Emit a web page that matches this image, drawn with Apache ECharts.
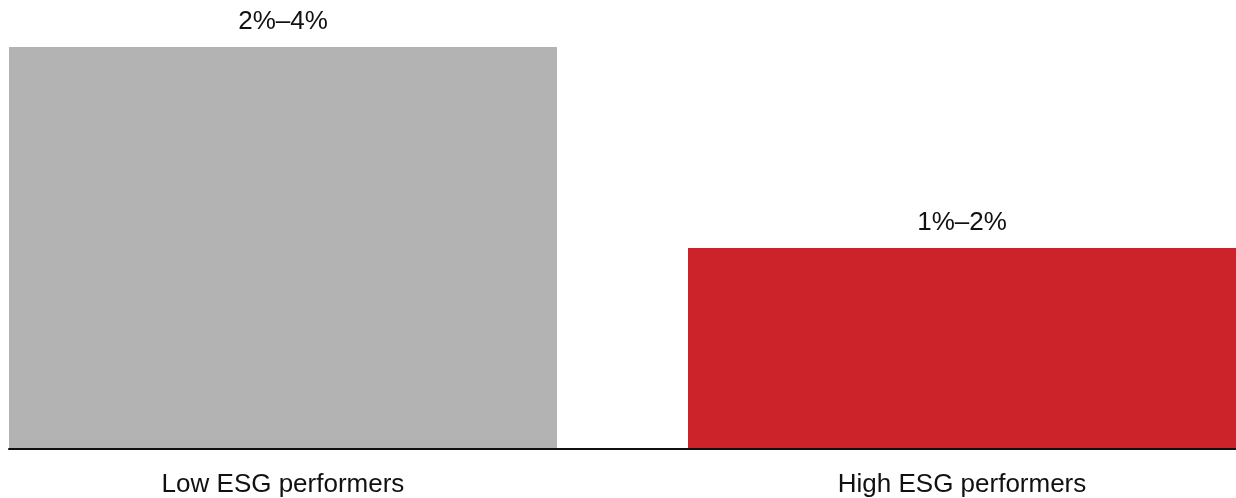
<!DOCTYPE html>
<html lang="en">
<head>
    <meta charset="UTF-8">
    <title>ESG performers</title>
    <script src="https://cdn.jsdelivr.net/npm/echarts@6/dist/echarts.min.js"></script>
    <style>
        html, body { margin: 0; padding: 0; background: #fff; }
        #main { width: 1236px; height: 498px; }
    </style>
</head>
<body>
<div id="main"></div>
<script>
    // categories and values (upper end of each range drives bar height)
    var categories = ['Low ESG performers', 'High ESG performers'];
    var positions = [0, 1];
    var values = [4, 2];
    var rangeLabels = ['2%–4%', '1%–2%'];
    var barColors = ['#b3b3b3', '#cc2229'];

    var myChart = echarts.init(document.getElementById('main'));

    var option = {
        animation: false,
        textStyle: { fontFamily: 'Liberation Sans, Arial, sans-serif' },
        grid: { left: 9, right: 0, top: 47, bottom: 49 },
        xAxis: {
            type: 'value',
            z: 5,
            // bars sit off-centre in the visible area, so pad the range evenly
            min: -0.4035,
            max: 1.4035,
            splitLine: { show: false },
            axisLine: { show: true, onZero: false, lineStyle: { color: '#111', width: 2 } },
            axisTick: { show: false },
            axisLabel: {
                customValues: positions,
                formatter: function (v) {
                    return categories[positions.indexOf(Math.round(v))] || '';
                },
                color: '#111',
                fontSize: 26,
                margin: 23
            }
        },
        yAxis: {
            type: 'value',
            min: 0,
            max: 4,
            show: false
        },
        series: [{
            type: 'bar',
            barWidth: 548,
            data: values.map(function (v, i) {
                return {
                    value: [positions[i], v],
                    itemStyle: { color: barColors[i] },
                    label: { formatter: rangeLabels[i] }
                };
            }),
            label: {
                show: true,
                position: 'top',
                distance: 12,
                color: '#111',
                fontSize: 26
            }
        }]
    };

    myChart.setOption(option);
</script>
</body>
</html>
